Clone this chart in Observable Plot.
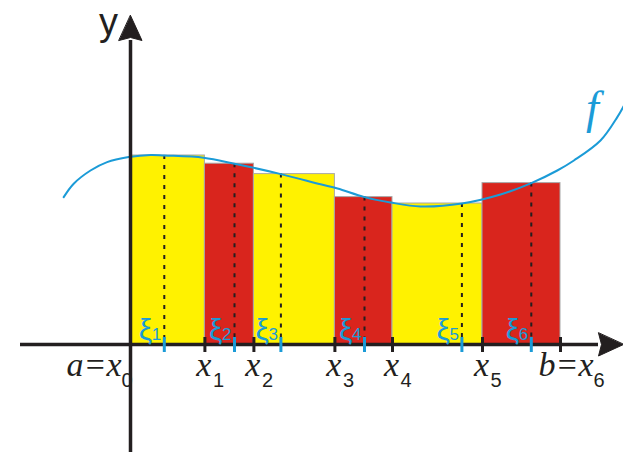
<!DOCTYPE html>
<html><head><meta charset="utf-8">
<script src="https://cdn.jsdelivr.net/npm/d3@7"></script>
<script src="https://cdn.jsdelivr.net/npm/@observablehq/plot@0.6"></script>
<style>
html,body{margin:0;padding:0;background:#fff;}
svg{display:block;}
</style>
</head><body><div id="chart"></div>
<script>
// ---- data (chart units) ----
const partition = [0, 3.72, 6.17, 10.22, 13.1, 17.6, 21.5];           // x0 .. x6
const partitionSubscripts = ["0", "1", "2", "3", "4", "5", "6"];
const samplePoints = [1.69, 5.2, 7.52, 11.7, 16.57, 20.04];           // xi1 .. xi6
const sampleSubscripts = ["1", "2", "3", "4", "5", "6"];
const barHeights = [9.45, 9.04, 8.52, 7.37, 7.05, 8.07];              // f(xi_i)
const curveX = [-3.34, -2.84, -2.0, -1.17, -0.09, 1.0, 1.69, 3.65, 5.2, 7.52, 9.5, 10.35, 11.7, 13.0, 14.5, 16.57, 18.5, 20.04, 21.34, 22.17, 23.5, 24.34, 24.7];
const curveY = [7.37, 8.04, 8.7, 9.12, 9.37, 9.48, 9.45, 9.34, 9.04, 8.52, 8.01, 7.8, 7.37, 7.1, 6.9, 7.05, 7.5, 8.07, 8.7, 9.2, 10.2, 11.37, 12.0];
const xAxisExtent = [-5.5, 23.4];
const yAxisExtent = [-5.4, 15.2];
const axisNames = ["y"];
const endpointPrefixes = ["a=", "b="];
const curveName = ["f"];
const curveNamePos = [23.1, 11.1];

// ---- derived tables ----
const ink = "#231f20", yellow = "#fff200", red = "#d9251d", blue = "#1b9bd7";
const bars = barHeights.map((h, i) => ({x1: partition[i], x2: partition[i + 1], h, xi: samplePoints[i], i}));
const curve = curveX.map((x, i) => ({x, y: curveY[i]}));
const parts = partition.map((x, i) => ({x, sub: partitionSubscripts[i], i}));
const samples = samplePoints.map((x, i) => ({x, sub: sampleSubscripts[i]}));
const inner = parts.filter(d => d.i > 0 && d.i < partition.length - 1);
const first = [parts[0]], last = [parts[parts.length - 1]];

const arrowHead = {
  draw(context, l, r) {
    context.moveTo(0, -l);
    context.lineTo(r, 0);
    context.lineTo(0, -l * 0.12);
    context.lineTo(-r, 0);
    context.closePath();
  }
};

const serif = "'Liberation Serif', 'Times New Roman', serif";
const sans = "'Liberation Sans', Arial, sans-serif";
const labelSize = 34;

const chart = Plot.plot({
  width: 623, height: 452, margin: 0,
  x: {domain: [-6.5, 24.65], axis: null},
  y: {domain: [-5.4, 17.2], axis: null},
  style: {background: "white", overflow: "visible"},
  marks: [
    Plot.rectY(bars, {x1: "x1", x2: "x2", y1: 0, y2: "h", fill: d => d.i % 2 ? red : yellow, stroke: "#a8a8a8", strokeWidth: 1}),
    Plot.ruleX(bars, {x: "xi", y1: "h", y2: 0, stroke: ink, strokeWidth: 2, strokeDasharray: "4,6"}),
    Plot.line(curve, {x: "x", y: "y", curve: "catmull-rom", stroke: blue, strokeWidth: 2}),
    // axes
    Plot.ruleY([0], {x1: xAxisExtent[0], x2: xAxisExtent[1], stroke: ink, strokeWidth: 3.5}),
    Plot.ruleX([0], {y1: yAxisExtent[0], y2: yAxisExtent[1], stroke: ink, strokeWidth: 3.5}),
    Plot.vector([{x: xAxisExtent[1], y: 0}], {x: "x", y: "y", length: 25, rotate: 90, anchor: "start", shape: arrowHead, r: 11.5, fill: ink, stroke: ink, strokeWidth: 1}),
    Plot.vector([{x: 0, y: yAxisExtent[1]}], {x: "x", y: "y", length: 25, rotate: 0, anchor: "start", shape: arrowHead, r: 11.5, fill: ink, stroke: ink, strokeWidth: 1}),
    // ticks
    Plot.ruleX(parts, {x: "x", y1: 0, y2: 0, insetTop: -7, insetBottom: -8, stroke: ink, strokeWidth: 3}),
    Plot.ruleX(samples, {x: "x", y1: 0, y2: 0, insetTop: -7, insetBottom: -8, stroke: blue, strokeWidth: 3}),
    // xi labels
    Plot.text(samples, {x: "x", y: 0, text: () => "ξ", textAnchor: "end", lineAnchor: "bottom", dx: -12, dy: -5, fill: blue, fontSize: 30, fontFamily: sans}),
    Plot.text(samples, {x: "x", y: 0, text: "sub", textAnchor: "end", lineAnchor: "bottom", dx: -3, dy: -5, fill: blue, fontSize: 17, fontFamily: sans}),
    // x labels
    Plot.text(inner, {x: "x", y: 0, text: () => "x", textAnchor: "middle", lineAnchor: "bottom", dx: -1, dy: 31, fill: ink, fontSize: labelSize, fontStyle: "italic", fontFamily: serif}),
    Plot.text(first, {x: "x", y: 0, text: () => endpointPrefixes[0] + "x", textAnchor: "end", lineAnchor: "bottom", dx: -9, dy: 31, fill: ink, fontSize: labelSize, fontStyle: "italic", fontFamily: serif}),
    Plot.text(last, {x: "x", y: 0, text: () => endpointPrefixes[1] + "x", textAnchor: "start", lineAnchor: "bottom", dx: -22, dy: 31, fill: ink, fontSize: labelSize, fontStyle: "italic", fontFamily: serif}),
    Plot.text(inner, {x: "x", y: 0, text: "sub", textAnchor: "start", lineAnchor: "bottom", dx: 8, dy: 42, fill: ink, fontSize: 20, fontFamily: sans}),
    Plot.text(first, {x: "x", y: 0, text: "sub", textAnchor: "start", lineAnchor: "bottom", dx: -9, dy: 42, fill: ink, fontSize: 20, fontFamily: sans}),
    Plot.text(last, {x: "x", y: 0, text: "sub", textAnchor: "start", lineAnchor: "bottom", dx: 33, dy: 42, fill: ink, fontSize: 20, fontFamily: sans}),
    // axis name and curve name
    Plot.text(axisNames, {x: 0, y: yAxisExtent[1], text: d => d, textAnchor: "middle", lineAnchor: "bottom", dx: -22, dy: -5.5, fill: ink, fontSize: 38, fontFamily: sans}),
    Plot.text(curveName, {x: curveNamePos[0], y: curveNamePos[1], text: d => d, textAnchor: "middle", lineAnchor: "bottom", fill: blue, fontSize: 46, fontStyle: "italic", fontFamily: serif})
  ]
});
document.getElementById("chart").appendChild(chart);
</script>
</body></html>
